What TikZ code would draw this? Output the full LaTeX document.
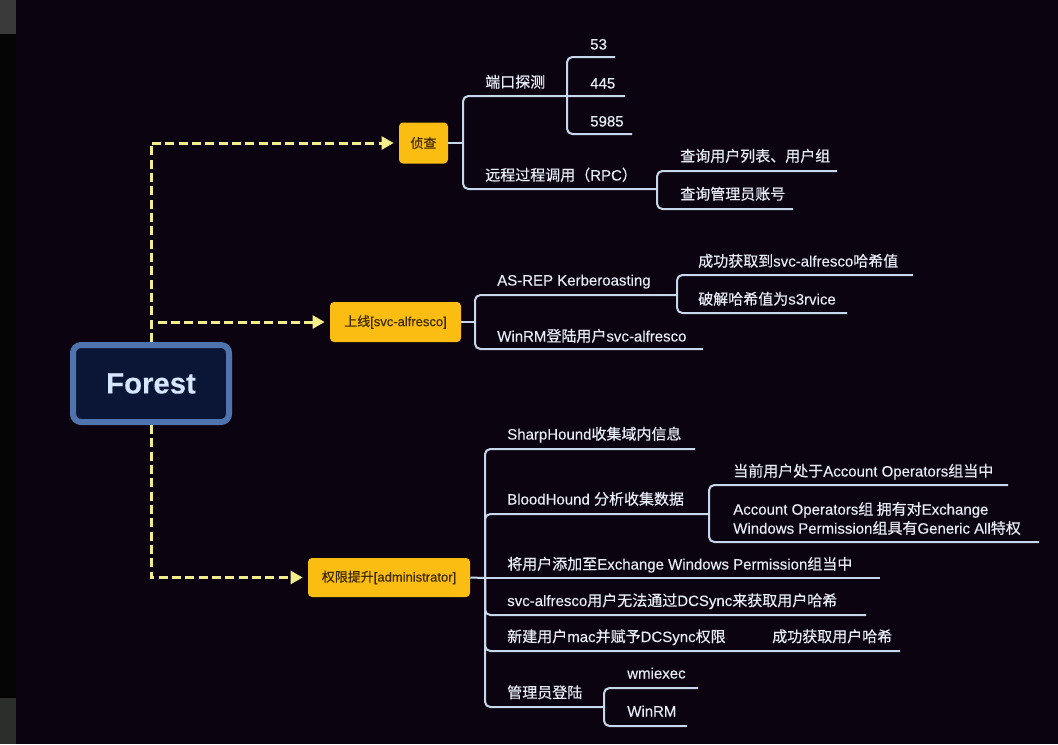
\documentclass[tikz,border=0pt]{standalone}
\usepackage{fontspec}
\setmainfont{Liberation Sans}[FakeBold=0.25]
\newfontfamily\cjkfont{Noto Sans CJK SC}[FakeBold=0.45]
\newcommand\zh[1]{{\cjkfont #1}}
\usetikzlibrary{arrows.meta}
\definecolor{bgc}{HTML}{0C0310}
\definecolor{stripc}{HTML}{050505}
\definecolor{graytop}{HTML}{3A3A3A}
\definecolor{graybot}{HTML}{2C2E2C}
\definecolor{linec}{HTML}{C8D8EC}
\definecolor{txtc}{HTML}{E6EDF6}
\definecolor{dashc}{HTML}{F3EE8C}
\definecolor{yel}{HTML}{FBBD12}
\definecolor{ytxt}{HTML}{3E2B02}
\definecolor{fbg}{HTML}{0B1535}
\definecolor{fbord}{HTML}{4F74AD}
\definecolor{ftxt}{HTML}{D6E6FC}
\tikzset{
  lbl/.style={anchor=base west, inner sep=0pt, text=txtc, font=\fontsize{11.25pt}{14.25pt}\selectfont},
  ybox/.style={fill=yel, rounded corners=3pt, inner sep=0pt, text=ytxt, font=\fontsize{9.75pt}{12pt}\selectfont},
  br/.style={draw=linec, line width=1.5pt, rounded corners=4pt},
  dsh/.style={draw=dashc, line width=2.25pt, dash pattern=on 6.75pt off 3.25pt, -{Triangle[length=9pt,width=9.5pt]}, shorten >=3.75pt},
}
\begin{document}
\begin{tikzpicture}[x=0.75pt,y=-0.75pt]
\useasboundingbox (0,0) rectangle (1058,744);
% background
\fill[bgc] (0,0) rectangle (1058,744);
\fill[stripc] (0,0) rectangle (16,744);
\fill[graytop] (0,0) rectangle (16,34);
\fill[graybot] (0,698) rectangle (16,744);

% root
\node[draw=fbord, fill=fbg, line width=4.5pt, rounded corners=6pt, minimum width=117pt, minimum height=57.75pt, inner sep=0pt, text=ftxt, font=\fontsize{22pt}{24pt}\selectfont\bfseries] (forest) at (151,383.5) {Forest};

% main topics
\node[ybox, minimum width=36.75pt, minimum height=30.75pt] (zc) at (423.5,143) {\zh{侦查}};
\node[ybox, minimum width=98.25pt, minimum height=30pt] (sx) at (395.5,322) {\zh{上线}[svc-alfresco]};
\node[ybox, minimum width=121.5pt, minimum height=29.25pt] (qx) at (389,577.5) {\zh{权限提升}[administrator]};

% dashed connectors
\draw[dsh] (forest.north) |- (zc.west);
\draw[dsh] (forest.north) |- (sx.west);
\draw[dsh] (forest.south) |- (qx.west);

% ---- section 1 texts
\node[lbl] (dk) at (485,87.5) {\zh{端口探测}};
\node[lbl] (p53) at (590,49.5) {53};
\node[lbl] (p445) at (590,88.5) {445};
\node[lbl] (p5985) at (590,126.5) {5985};
\node[lbl] (rpc) at (485,180.5) {\zh{远程过程调用（}RPC\zh{）}};
\node[lbl] (cx1) at (680,161.5) {\zh{查询用户列表、用户组}};
\node[lbl] (cx2) at (680,199.5) {\zh{查询管理员账号}};
% section 1 lines
\draw[br] (zc.east) -- (463,143);
\draw[br] (463,143) |- (625,96);
\draw[br] (463,143) |- (657,189);
\draw[br] (567,96) |- (615,57);
\draw[br] (567,96) |- (632,134);
\draw[br] (657,189) |- (837,171);
\draw[br] (657,189) |- (793,209);

% ---- section 2 texts
\node[lbl] (asrep) at (497,285.5) {AS-REP Kerberoasting};
\node[lbl] (cg) at (698,266.5) {\zh{成功获取到}svc-alfresco\zh{哈希值}};
\node[lbl] (pj) at (698,304.5) {\zh{破解哈希值为}s3rvice};
\node[lbl] (wrm1) at (497,341.5) {WinRM\zh{登陆用户}svc-alfresco};
% section 2 lines
\draw[br] (sx.east) -- (475,322);
\draw[br] (475,322) |- (677,295);
\draw[br] (475,322) |- (703,349);
\draw[br] (677,295) |- (913,275);
\draw[br] (677,295) |- (847,313);

% ---- section 3 texts
\node[lbl] (sh) at (507,439.5) {SharpHound\zh{收集域内信息}};
\node[lbl] (bh) at (507,504.5) {BloodHound \zh{分析收集数据}};
\node[lbl] (dq) at (733,476.5) {\zh{当前用户处于}Account Operators\zh{组当中}};
\node[lbl, anchor=west, align=left] (ao) at (733,518.5) {Account Operators\zh{组 拥有对}Exchange\\Windows Permission\zh{组具有}Generic All\zh{特权}};
\node[lbl] (tj) at (507,569.5) {\zh{将用户添加至}Exchange Windows Permission\zh{组当中}};
\node[lbl] (wf) at (507,606) {svc-alfresco\zh{用户无法通过}DCSync\zh{来获取用户哈希}};
\node[lbl] (xj) at (507,642) {\zh{新建用户}mac\zh{并赋予}DCSync\zh{权限}};
\node[lbl] (hx) at (772,642) {\zh{成功获取用户哈希}};
\node[lbl] (gly) at (507,698) {\zh{管理员登陆}};
\node[lbl] (wmi) at (627,678.5) {wmiexec};
\node[lbl] (wrm2) at (627,716.5) {WinRM};
% section 3 lines
\draw[br] (qx.east) -- (485,578);
\draw[br] (485,578) |- (695,449);
\draw[br] (485,578) |- (709,514);
\draw[br] (485,578) -- (880,578);
\draw[br] (485,578) |- (866,615);
\draw[br] (485,578) |- (900,651);
\draw[br] (485,578) |- (604,707);
\draw[br] (709,514) |- (1008,485);
\draw[br] (709,514) |- (1039,542);
\draw[br] (604,707) |- (698,688);
\draw[br] (604,707) |- (687,726);
\end{tikzpicture}
\end{document}
